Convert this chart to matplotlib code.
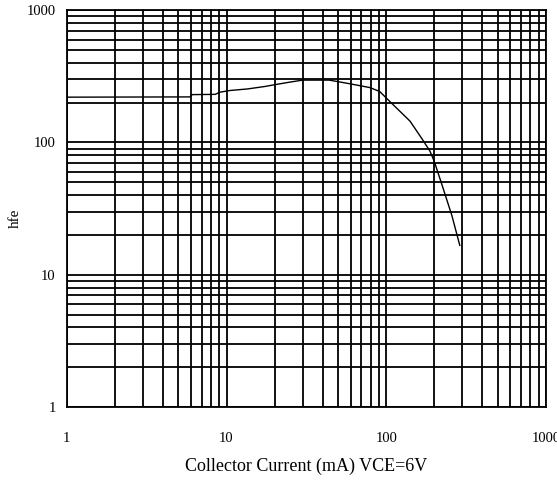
import matplotlib
matplotlib.use('Agg')
import matplotlib.pyplot as plt
from matplotlib.ticker import LogLocator, NullFormatter, FixedLocator, FixedFormatter

# hfe vs collector current
ic_ma = [1, 5.9, 6.1, 8.5, 9.1, 10.5, 13.6, 17.4, 21, 25, 30, 44, 59, 79, 91,
         105, 141, 169, 188, 200, 226, 258, 289]
hfe = [220, 221, 230, 231, 240, 247, 254, 265, 276, 286, 296, 296, 278, 260, 243,
       205, 145, 105, 86, 72, 46, 28, 16.7]

x_ticks = [1, 10, 100, 1000]
x_labels = ['1', '10', '100', '1000']
y_ticks = [1, 10, 100, 1000]
y_labels = ['1', '10', '100', '1000']

plt.rcParams['font.family'] = ['Liberation Serif', 'DejaVu Serif']

fig = plt.figure(figsize=(5.57, 4.83), dpi=100)
ax = fig.add_axes([0.120, 0.157, 0.860, 0.822])

ax.plot(ic_ma, hfe, color='black', linewidth=1.0)

ax.set_xscale('log')
ax.set_yscale('log')
ax.set_xlim(1, 1000)
ax.set_ylim(1, 1000)

ax.xaxis.set_major_locator(FixedLocator(x_ticks))
ax.xaxis.set_major_formatter(FixedFormatter(x_labels))
ax.yaxis.set_major_locator(FixedLocator(y_ticks))
ax.yaxis.set_major_formatter(FixedFormatter(y_labels))
ax.xaxis.set_minor_locator(LogLocator(base=10, subs=range(2, 10)))
ax.yaxis.set_minor_locator(LogLocator(base=10, subs=range(2, 10)))
ax.xaxis.set_minor_formatter(NullFormatter())
ax.yaxis.set_minor_formatter(NullFormatter())

ax.grid(True, which='both', color='black', linewidth=1.3)
ax.tick_params(which='both', length=0)
ax.tick_params(axis='x', pad=18, labelsize=10.5)
ax.tick_params(axis='y', pad=8, labelsize=10.5)
for s in ax.spines.values():
    s.set_linewidth(1.3)

ax.set_xlabel('Collector Current (mA) VCE=6V', fontsize=13, labelpad=9)
ax.set_ylabel('hfe', fontsize=11)
ax.yaxis.set_label_coords(-0.093, 0.476)

fig.savefig('out.png', dpi=100)
